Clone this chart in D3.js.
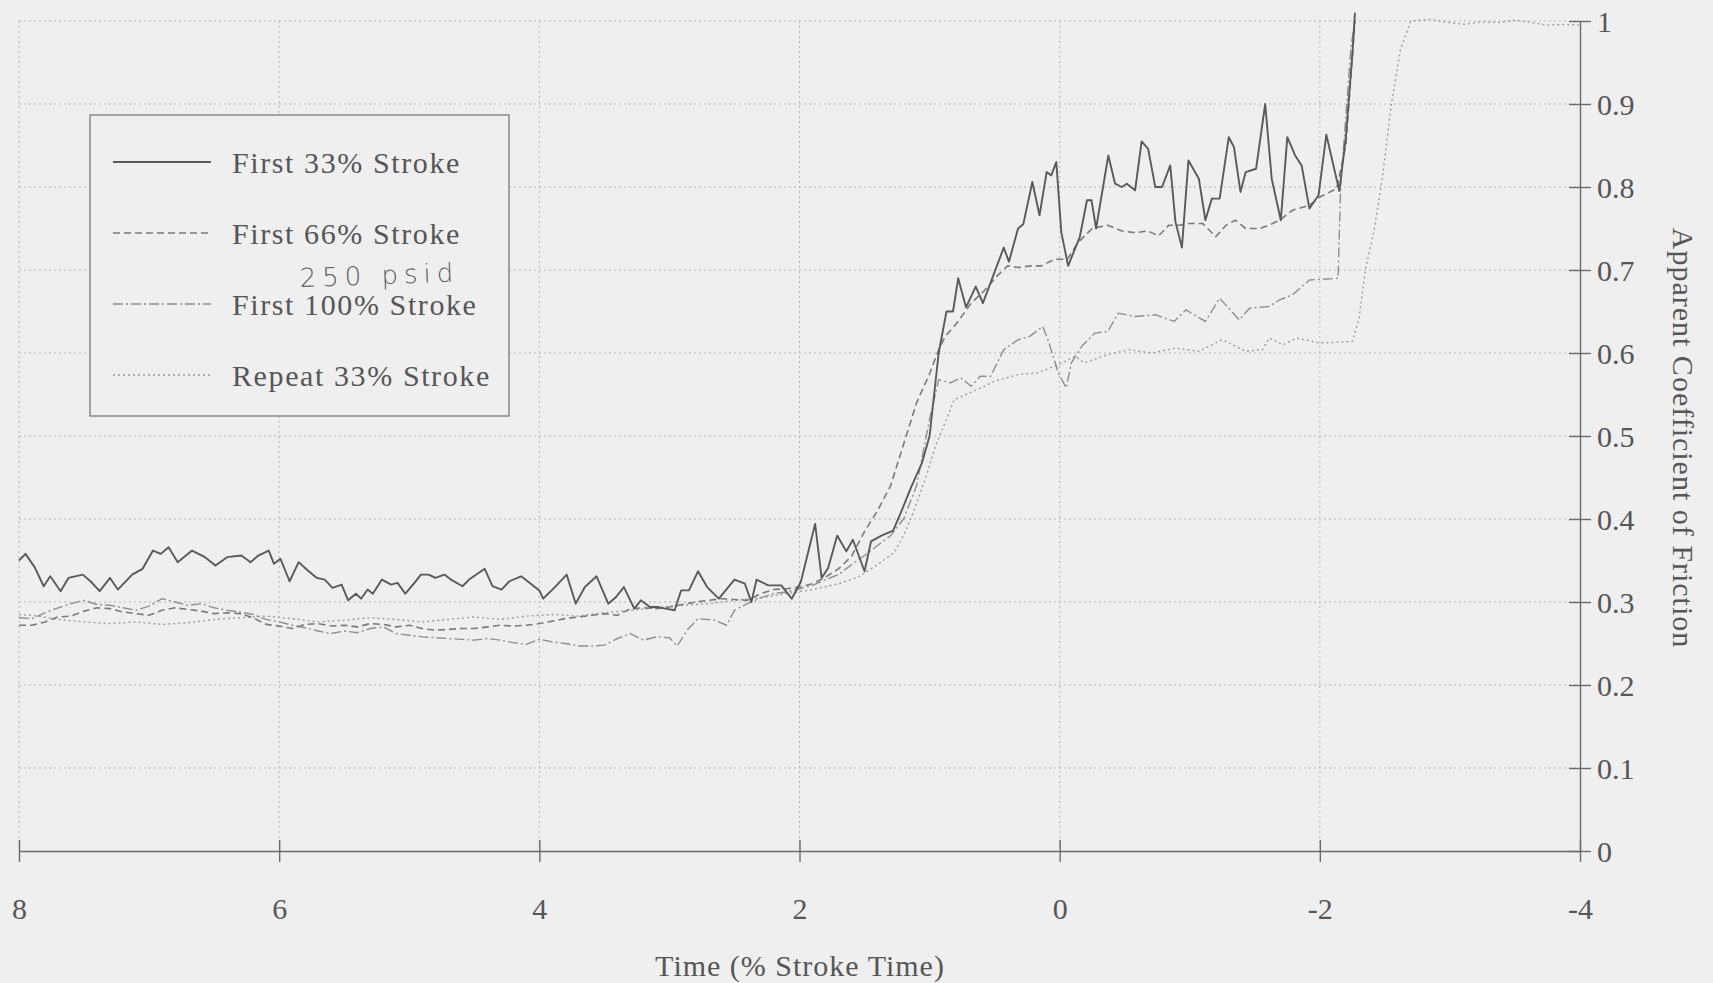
<!DOCTYPE html>
<html>
<head>
<meta charset="utf-8">
<script src="https://d3js.org/d3.v7.min.js"></script>
<style>
  body { margin: 0; background: #efefef; }
  svg { display: block; font-family: "Liberation Serif", "DejaVu Serif", serif; }
  .grid line { stroke: #b4b4b4; stroke-width: 1; stroke-dasharray: 2,3; }
  .axis path, .axis line { stroke: #6a6a6a; stroke-width: 1.4; }
  .axis text { fill: #565656; font-size: 30px; font-family: "Liberation Serif", serif; }
  .title { fill: #565656; font-size: 30px; letter-spacing: 1px; }
  .legend text { fill: #565656; font-size: 30px; letter-spacing: 1.6px; }
</style>
</head>
<body>
<div id="chart"></div>
<script>
var xTicks = [8, 6, 4, 2, 0, -2, -4];
var yTicks = [0, 0.1, 0.2, 0.3, 0.4, 0.5, 0.6, 0.7, 0.8, 0.9, 1];
var xTitle = "Time (% Stroke Time)";
var yTitle = "Apparent Coefficient of Friction";
var seriesNames = ["First 33% Stroke", "First 66% Stroke", "First 100% Stroke", "Repeat 33% Stroke"];
var note = "250 psid";

// [time, coefficient]
var first33 = [[8.0,0.35],[7.95,0.358],[7.88,0.342],[7.81,0.319],[7.76,0.331],[7.68,0.313],[7.62,0.329],[7.51,0.333],[7.45,0.325],[7.38,0.313],[7.30,0.329],[7.24,0.315],[7.13,0.333],[7.05,0.34],[6.97,0.362],[6.91,0.358],[6.85,0.366],[6.78,0.348],[6.67,0.362],[6.57,0.354],[6.49,0.344],[6.40,0.354],[6.29,0.356],[6.22,0.348],[6.16,0.356],[6.08,0.362],[6.04,0.346],[5.99,0.352],[5.92,0.325],[5.85,0.348],[5.78,0.338],[5.71,0.329],[5.65,0.327],[5.59,0.317],[5.52,0.321],[5.47,0.302],[5.41,0.31],[5.37,0.304],[5.32,0.315],[5.28,0.31],[5.21,0.327],[5.14,0.321],[5.09,0.323],[5.03,0.31],[4.96,0.323],[4.91,0.333],[4.85,0.333],[4.80,0.329],[4.73,0.333],[4.68,0.327],[4.59,0.319],[4.54,0.327],[4.42,0.34],[4.36,0.319],[4.29,0.315],[4.23,0.325],[4.14,0.331],[4.09,0.325],[4.0,0.314],[3.97,0.304],[3.88,0.318],[3.79,0.333],[3.72,0.298],[3.65,0.318],[3.56,0.331],[3.47,0.298],[3.41,0.306],[3.35,0.318],[3.27,0.292],[3.22,0.302],[3.15,0.294],[3.09,0.294],[3.03,0.292],[2.96,0.29],[2.91,0.314],[2.85,0.314],[2.78,0.337],[2.71,0.318],[2.62,0.304],[2.50,0.327],[2.42,0.322],[2.37,0.30],[2.33,0.327],[2.24,0.32],[2.14,0.32],[2.06,0.304],[1.99,0.324],[1.88,0.394],[1.83,0.329],[1.78,0.341],[1.71,0.38],[1.64,0.361],[1.59,0.375],[1.50,0.337],[1.45,0.373],[1.37,0.38],[1.28,0.386],[1.22,0.408],[1.14,0.439],[1.06,0.467],[1.0,0.5],[0.93,0.60],[0.87,0.65],[0.82,0.65],[0.78,0.69],[0.72,0.655],[0.645,0.68],[0.59,0.66],[0.53,0.685],[0.43,0.727],[0.39,0.71],[0.32,0.75],[0.28,0.755],[0.21,0.806],[0.155,0.766],[0.10,0.818],[0.065,0.814],[0.026,0.83],[-0.013,0.745],[-0.065,0.705],[-0.155,0.74],[-0.21,0.784],[-0.245,0.784],[-0.28,0.75],[-0.374,0.838],[-0.426,0.804],[-0.477,0.80],[-0.516,0.804],[-0.58,0.796],[-0.63,0.855],[-0.68,0.846],[-0.735,0.80],[-0.787,0.80],[-0.85,0.826],[-0.89,0.758],[-0.94,0.727],[-0.99,0.832],[-1.07,0.81],[-1.12,0.76],[-1.17,0.786],[-1.23,0.786],[-1.30,0.86],[-1.34,0.848],[-1.39,0.794],[-1.43,0.818],[-1.51,0.822],[-1.58,0.90],[-1.63,0.81],[-1.70,0.76],[-1.75,0.86],[-1.81,0.838],[-1.86,0.826],[-1.92,0.774],[-1.99,0.79],[-2.05,0.863],[-2.15,0.795],[-2.2,0.86],[-2.25,0.96],[-2.27,1.01]];

var first66 = [[8.0,0.272],[7.9,0.272],[7.8,0.276],[7.7,0.282],[7.6,0.283],[7.5,0.289],[7.4,0.293],[7.3,0.292],[7.2,0.288],[7.1,0.286],[7.0,0.284],[6.9,0.29],[6.8,0.293],[6.7,0.291],[6.6,0.289],[6.5,0.286],[6.4,0.287],[6.3,0.286],[6.2,0.281],[6.1,0.273],[6.0,0.271],[5.9,0.268],[5.8,0.273],[5.7,0.274],[5.6,0.271],[5.5,0.272],[5.4,0.27],[5.3,0.274],[5.2,0.273],[5.1,0.27],[5.0,0.272],[4.9,0.268],[4.8,0.266],[4.7,0.267],[4.6,0.268],[4.5,0.268],[4.4,0.27],[4.3,0.272],[4.2,0.271],[4.1,0.272],[4.0,0.274],[3.9,0.277],[3.8,0.28],[3.7,0.282],[3.6,0.284],[3.5,0.286],[3.4,0.284],[3.3,0.292],[3.2,0.293],[3.1,0.292],[3.0,0.294],[2.9,0.297],[2.8,0.3],[2.7,0.302],[2.6,0.304],[2.5,0.303],[2.4,0.302],[2.3,0.31],[2.2,0.315],[2.1,0.316],[2.0,0.318],[1.9,0.322],[1.8,0.33],[1.7,0.34],[1.6,0.355],[1.5,0.385],[1.4,0.41],[1.3,0.44],[1.2,0.49],[1.1,0.54],[1.0,0.575],[0.93,0.604],[0.88,0.62],[0.79,0.636],[0.68,0.66],[0.58,0.675],[0.48,0.693],[0.4,0.705],[0.32,0.703],[0.22,0.705],[0.14,0.705],[0.04,0.713],[-0.06,0.713],[-0.14,0.733],[-0.25,0.75],[-0.37,0.754],[-0.48,0.747],[-0.58,0.745],[-0.68,0.747],[-0.76,0.741],[-0.84,0.754],[-0.92,0.754],[-0.99,0.756],[-1.1,0.756],[-1.2,0.74],[-1.28,0.754],[-1.35,0.76],[-1.43,0.75],[-1.54,0.75],[-1.61,0.754],[-1.69,0.76],[-1.79,0.772],[-1.92,0.778],[-2.0,0.788],[-2.13,0.798],[-2.2,0.85],[-2.27,1.0]];

var first100 = [[8.0,0.281],[7.9,0.28],[7.8,0.287],[7.7,0.293],[7.6,0.298],[7.5,0.302],[7.4,0.297],[7.3,0.296],[7.2,0.293],[7.1,0.29],[7.0,0.295],[6.9,0.304],[6.8,0.3],[6.7,0.296],[6.6,0.298],[6.5,0.293],[6.4,0.29],[6.3,0.288],[6.2,0.285],[6.1,0.279],[6.0,0.276],[5.9,0.272],[5.8,0.269],[5.7,0.265],[5.6,0.262],[5.5,0.265],[5.4,0.263],[5.3,0.268],[5.2,0.27],[5.1,0.262],[5.0,0.26],[4.9,0.258],[4.8,0.257],[4.7,0.256],[4.6,0.255],[4.5,0.254],[4.4,0.256],[4.3,0.254],[4.2,0.251],[4.1,0.249],[4.0,0.255],[3.9,0.252],[3.8,0.25],[3.7,0.247],[3.6,0.247],[3.5,0.248],[3.4,0.256],[3.3,0.262],[3.2,0.254],[3.1,0.258],[3.0,0.257],[2.94,0.247],[2.86,0.267],[2.78,0.28],[2.65,0.278],[2.56,0.272],[2.5,0.29],[2.4,0.298],[2.3,0.305],[2.2,0.31],[2.1,0.312],[2.0,0.316],[1.9,0.32],[1.8,0.327],[1.7,0.333],[1.6,0.345],[1.5,0.356],[1.4,0.368],[1.3,0.38],[1.2,0.4],[1.1,0.44],[1.0,0.52],[0.93,0.568],[0.84,0.564],[0.76,0.57],[0.68,0.56],[0.61,0.572],[0.53,0.572],[0.43,0.604],[0.32,0.616],[0.23,0.62],[0.13,0.632],[0.09,0.616],[0.01,0.576],[-0.05,0.558],[-0.09,0.588],[-0.17,0.608],[-0.27,0.624],[-0.37,0.626],[-0.45,0.648],[-0.58,0.644],[-0.74,0.646],[-0.88,0.638],[-0.97,0.652],[-1.12,0.638],[-1.23,0.666],[-1.38,0.64],[-1.46,0.654],[-1.61,0.656],[-1.69,0.664],[-1.79,0.67],[-1.92,0.688],[-2.14,0.69],[-2.16,0.8],[-2.24,0.97],[-2.27,1.0]];

var repeat33 = [[8.0,0.285],[7.85,0.283],[7.7,0.279],[7.5,0.276],[7.3,0.274],[7.1,0.276],[6.9,0.273],[6.7,0.275],[6.5,0.279],[6.3,0.281],[6.1,0.283],[5.9,0.28],[5.7,0.276],[5.5,0.278],[5.3,0.281],[5.1,0.279],[4.9,0.276],[4.7,0.279],[4.5,0.282],[4.3,0.279],[4.1,0.283],[3.9,0.285],[3.7,0.283],[3.5,0.287],[3.3,0.29],[3.1,0.293],[2.9,0.296],[2.7,0.298],[2.5,0.302],[2.3,0.305],[2.1,0.31],[1.9,0.315],[1.7,0.322],[1.55,0.33],[1.4,0.345],[1.27,0.36],[1.2,0.38],[1.12,0.41],[1.03,0.45],[0.95,0.49],[0.87,0.52],[0.81,0.544],[0.72,0.55],[0.63,0.556],[0.5,0.566],[0.32,0.574],[0.17,0.576],[0.04,0.584],[-0.12,0.596],[-0.19,0.588],[-0.37,0.598],[-0.53,0.604],[-0.71,0.6],[-0.89,0.606],[-1.07,0.602],[-1.25,0.616],[-1.43,0.602],[-1.56,0.604],[-1.61,0.618],[-1.72,0.61],[-1.82,0.618],[-2.0,0.612],[-2.25,0.614],[-2.3,0.64],[-2.35,0.7],[-2.42,0.75],[-2.48,0.81],[-2.55,0.9],[-2.62,0.966],[-2.7,1.0],[-2.85,1.002],[-3.0,0.998],[-3.11,0.996],[-3.25,0.999],[-3.37,0.998],[-3.5,1.001],[-3.63,0.998],[-3.75,0.995],[-3.88,0.996],[-4.0,0.995]];

var allSeries = [first33, first66, first100, repeat33];
var lineColors = ["#5a5a5a", "#7a7a7a", "#8e8e8e", "#9c9c9c"];
var lineWidths = [1.9, 1.6, 1.4, 1.4];
var lineDashes = [null, "7,4", "10,3,2,3", "2,3"];

var margin = { top: 21, right: 133, bottom: 132, left: 19 },
    width = 1713,
    height = 983,
    innerW = width - margin.left - margin.right,
    innerH = height - margin.top - margin.bottom;

var svg = d3.select("#chart").append("svg")
    .attr("width", width)
    .attr("height", height);

svg.append("rect")
    .attr("width", width)
    .attr("height", height)
    .attr("fill", "#efefef");

var g = svg.append("g")
    .attr("transform", "translate(" + margin.left + "," + margin.top + ")");

var x = d3.scaleLinear().domain([8, -4]).range([0, innerW]);
var y = d3.scaleLinear().domain([0, 1]).range([innerH, 0]);

// dotted grid
var grid = g.append("g").attr("class", "grid");
grid.selectAll("line.h")
    .data(yTicks.slice(1))
    .enter().append("line")
    .attr("class", "h")
    .attr("x1", 0).attr("x2", innerW)
    .attr("y1", function(d) { return y(d); })
    .attr("y2", function(d) { return y(d); });
grid.selectAll("line.v")
    .data(xTicks.slice(0, -1))
    .enter().append("line")
    .attr("class", "v")
    .attr("y1", 0).attr("y2", innerH)
    .attr("x1", function(d) { return x(d); })
    .attr("x2", function(d) { return x(d); });

// axes, ticks cross the axis lines
var xAxis = g.append("g")
    .attr("class", "axis x")
    .attr("transform", "translate(0," + innerH + ")")
    .call(d3.axisBottom(x).tickValues(xTicks).tickSizeOuter(0)
        .tickFormat(function(d) { return String(d); }));
xAxis.selectAll(".tick line").attr("y1", -11).attr("y2", 11);
xAxis.selectAll(".tick text").attr("y", 57).attr("dy", "0.35em");

var yAxis = g.append("g")
    .attr("class", "axis y")
    .attr("transform", "translate(" + innerW + ",0)")
    .call(d3.axisRight(y).tickValues(yTicks).tickSizeOuter(0)
        .tickFormat(function(d) { return String(+d.toFixed(1)); }));
yAxis.selectAll(".tick line").attr("x1", -11).attr("x2", 11);
yAxis.selectAll(".tick text").attr("x", 17).attr("dy", "0.35em").attr("text-anchor", "start");

var line = d3.line()
    .x(function(d) { return x(d[0]); })
    .y(function(d) { return y(d[1]); });

g.selectAll("path.series")
    .data(allSeries.slice().reverse())
    .enter().append("path")
    .attr("class", "series")
    .attr("fill", "none")
    .attr("stroke-linejoin", "round")
    .attr("d", line)
    .each(function(d) {
        var i = allSeries.indexOf(d);
        d3.select(this)
            .attr("stroke", lineColors[i])
            .attr("stroke-width", lineWidths[i])
            .attr("stroke-dasharray", lineDashes[i]);
    });

// titles
svg.append("text")
    .attr("class", "title")
    .attr("x", 800)
    .attr("y", 965)
    .attr("dy", "0.35em")
    .attr("text-anchor", "middle")
    .text(xTitle);

svg.append("text")
    .attr("class", "title")
    .attr("transform", "translate(1683,438) rotate(90)")
    .attr("dy", "0.35em")
    .attr("text-anchor", "middle")
    .text(yTitle);

// legend
var legend = svg.append("g").attr("class", "legend");
legend.append("rect")
    .attr("x", 90).attr("y", 115)
    .attr("width", 419).attr("height", 301)
    .attr("fill", "#efefef")
    .attr("stroke", "#7a7a7a")
    .attr("stroke-width", 1.3);

var rows = legend.selectAll("g.row")
    .data(seriesNames)
    .enter().append("g")
    .attr("class", "row")
    .attr("transform", function(d, i) { return "translate(0," + (162 + i * 71) + ")"; });
rows.append("line")
    .attr("x1", 113).attr("x2", 211)
    .attr("y1", 0).attr("y2", 0)
    .attr("stroke", function(d, i) { return lineColors[i]; })
    .attr("stroke-width", function(d, i) { return lineWidths[i]; })
    .attr("stroke-dasharray", function(d, i) { return lineDashes[i]; });
rows.append("text")
    .attr("x", 232)
    .attr("dy", "0.35em")
    .text(function(d) { return d; });

// handwritten note on the scan
svg.append("text")
    .attr("x", 300)
    .attr("y", 287)
    .attr("transform", "rotate(-2,300,287)")
    .attr("fill", "#5e5e5e")
    .style("font-family", "DejaVu Sans")
    .style("font-size", "26px")
    .style("font-weight", "300")
    .style("letter-spacing", "6px")
    .text(note);
</script>
</body>
</html>
